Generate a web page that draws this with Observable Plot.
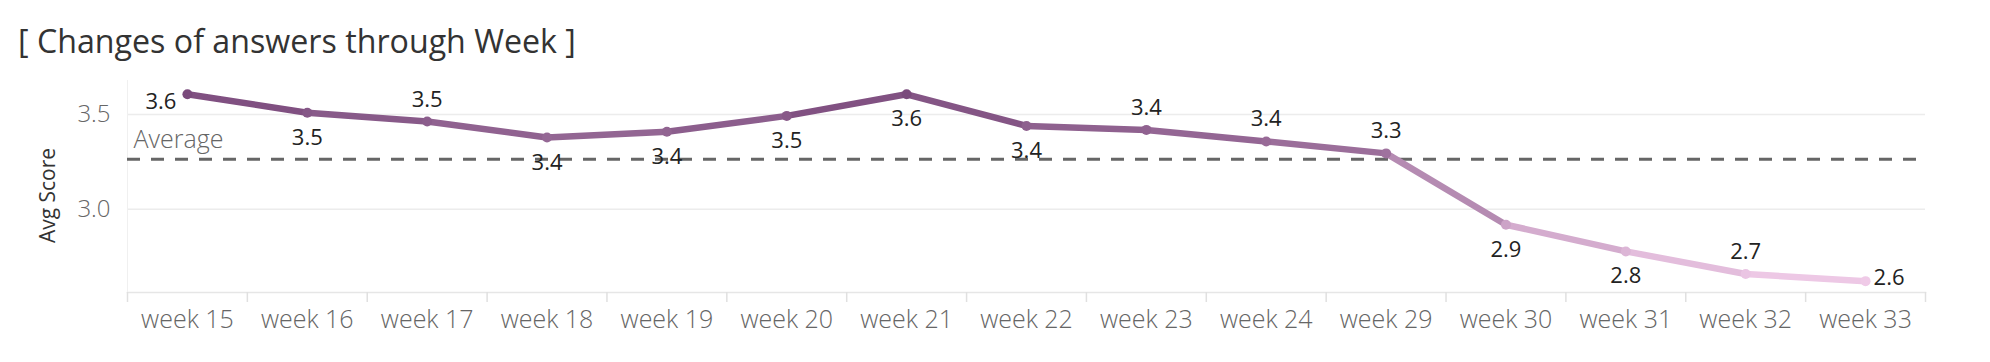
<!DOCTYPE html>
<html><head><meta charset="utf-8">
<script src="https://cdn.jsdelivr.net/npm/d3@7"></script>
<script src="https://cdn.jsdelivr.net/npm/@observablehq/plot@0.6"></script>
<style>
body{margin:0;background:#fff;font-family:"Open Sans",sans-serif;}
#title{height:62px;box-sizing:border-box;padding:25px 0 0 18px;font-size:32.2px;line-height:32px;color:#333;white-space:nowrap;}
</style></head><body>
<div id="title">[ Changes of answers through Week ]</div>
<div id="chart"></div>
<script>
// ---- data ----
const weeks = ["week 15","week 16","week 17","week 18","week 19","week 20","week 21","week 22","week 23","week 24","week 29","week 30","week 31","week 32","week 33"];
const scores = [3.607,3.510,3.463,3.379,3.409,3.493,3.607,3.440,3.419,3.358,3.295,2.918,2.777,2.658,2.620];
const labelSide = ["left","below","above","below","below","below","below","below","above","above","above","below","below","above","right"];
const yTicks = [3.0, 3.5];
const yDomain = [2.56, 3.68];
const averageLabel = "Average";
const yTitle = "Avg Score";

// ---- build ----
const rows = weeks.map((w, i) => ({week: w, score: scores[i], side: labelSide[i]}));
const segments = rows.slice(1).map((d, i) => ({a: rows[i], b: d}));
const avg = d3.mean(scores);
const fmt = d3.format(".1f");

const W = 1990, H = 300, ML = 127, MR = 65, MT = 18, MB = 70;
const step = (W - ML - MR) / weeks.length;
const labelFont = 22;

const side = (s, opts) => Plot.text(rows.filter(d => d.side === s), {
  x: "week", y: "score", text: d => fmt(d.score), fill: "#222", fontSize: labelFont, ...opts
});

const chart = Plot.plot({
  width: W, height: H,
  marginLeft: ML, marginRight: MR, marginTop: MT, marginBottom: MB,
  style: {fontFamily: '"Open Sans", sans-serif', background: "#fff", overflow: "visible"},
  x: {type: "point", domain: weeks, padding: 0.5, round: false, axis: null, label: null},
  y: {domain: yDomain, axis: null, label: null},
  color: {type: "linear", domain: [d3.min(scores), d3.max(scores)], range: ["#efcae7", "#7a4a7c"]},
  marks: [
    Plot.gridY(yTicks, {stroke: "#ececec", strokeOpacity: 1, strokeWidth: 1.5}),
    Plot.frame({anchor: "bottom", stroke: "#e6e6e6", strokeWidth: 1.5}),
    Plot.frame({anchor: "left", stroke: "#f0f0f0", strokeWidth: 1}),
    Plot.axisX(weeks, {tickSize: 10, dx: -step / 2, text: null, label: null, stroke: "#e0e0e0", strokeWidth: 1.5}),
    Plot.axisX([weeks[weeks.length - 1]], {tickSize: 10, dx: step / 2, text: null, label: null, stroke: "#e0e0e0", strokeWidth: 1.5}),
    Plot.axisX({tickSize: 0, tickPadding: 18, fontSize: 25, fontWeight: 300, fill: "#666", label: null}),
    Plot.axisY(yTicks, {tickSize: 0, tickPadding: 17, fontSize: 24, fontWeight: 300, fill: "#666", tickFormat: fmt, label: null}),
    Plot.text([yTitle], {frameAnchor: "left", text: d => d, rotate: -90, textAnchor: "middle", lineAnchor: "middle", dx: -79, dy: 9, fontSize: 21, fill: "#333"}),
    Plot.ruleY([avg], {stroke: "#666", strokeWidth: 3, strokeDasharray: "13,11"}),
    Plot.text([averageLabel], {frameAnchor: "left", y: () => avg, text: d => d, dx: 6, dy: -11, lineAnchor: "bottom", textAnchor: "start", fontSize: 25, fontWeight: 300, fill: "#666"}),
    Plot.link(segments, {x1: d => d.a.week, y1: d => d.a.score, x2: d => d.b.week, y2: d => d.b.score,
      stroke: d => (d.a.score + d.b.score) / 2, strokeWidth: 6.5, strokeLinecap: "round"}),
    Plot.dot(rows, {x: "week", y: "score", r: 5, fill: "score"}),
    side("above", {dy: -22}),
    side("below", {dy: 25}),
    side("left", {dx: -11, dy: 8, textAnchor: "end"}),
    side("right", {dx: 8, dy: -3, textAnchor: "start"})
  ]
});
document.getElementById("chart").appendChild(chart);
</script>
</body></html>
